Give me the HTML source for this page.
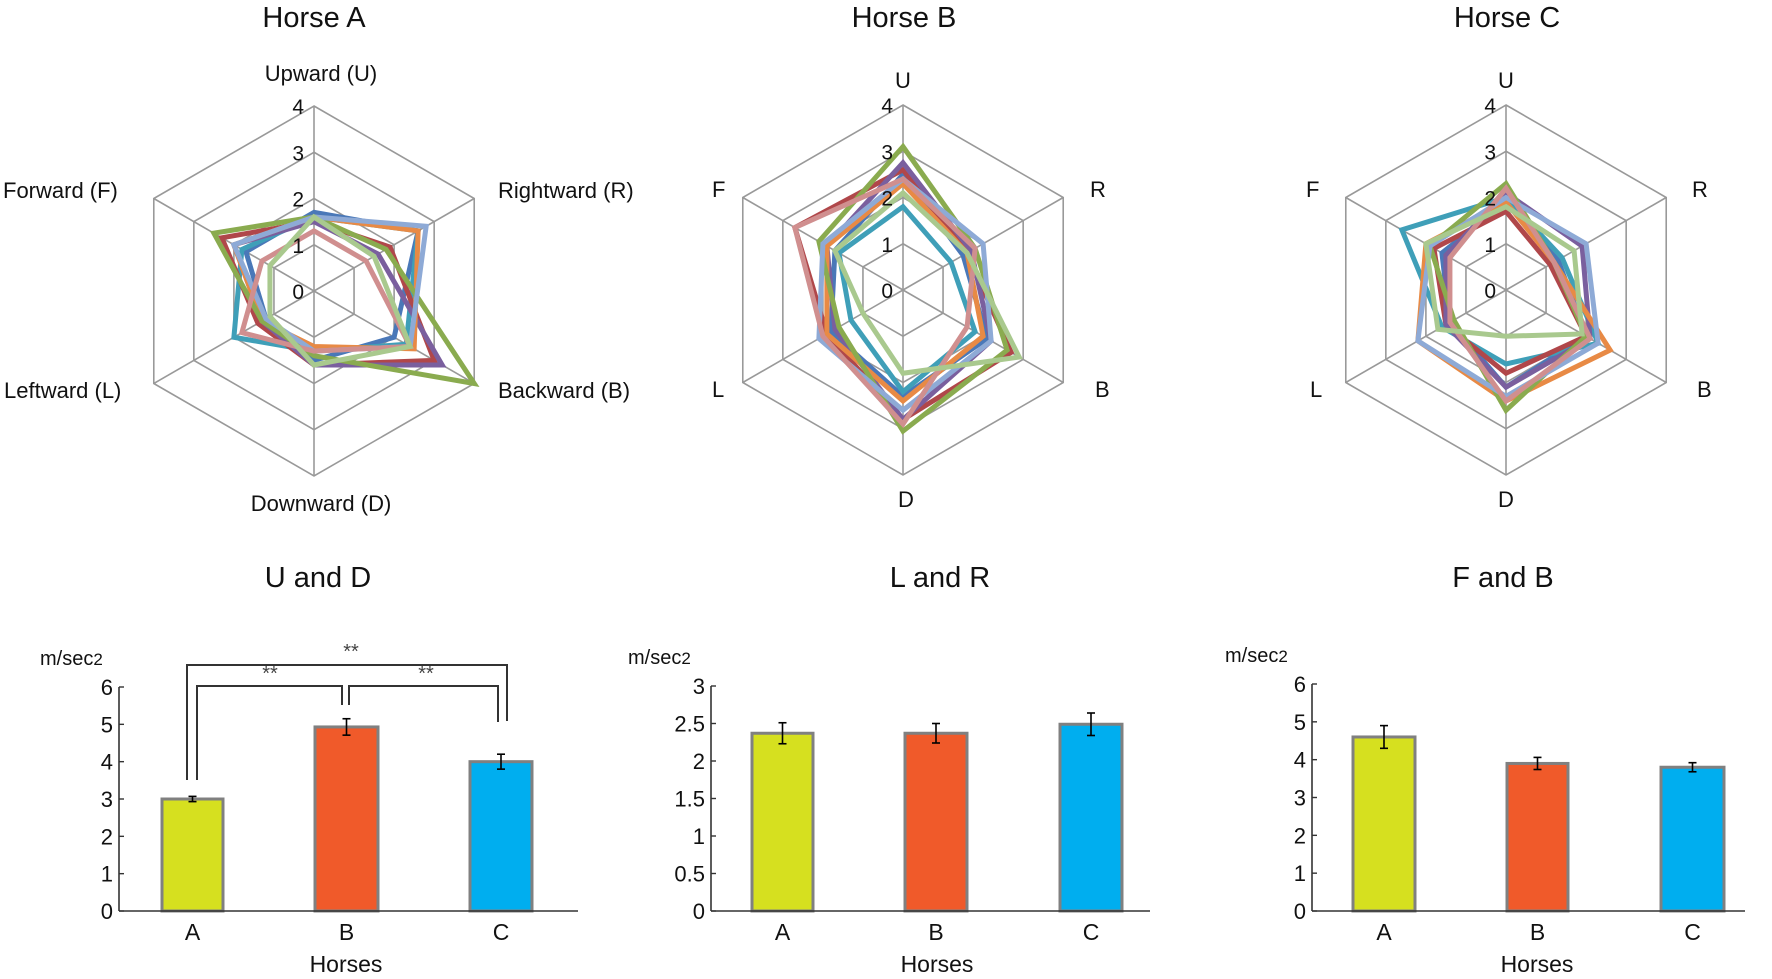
<!DOCTYPE html>
<html><head><meta charset="utf-8"><style>
html,body{margin:0;padding:0;background:#fff}
svg{display:block;font-family:"Liberation Sans",sans-serif}
</style></head><body>
<svg id="s" width="1772" height="979" viewBox="0 0 1772 979" xmlns="http://www.w3.org/2000/svg">
<g id="grids"></g>
<g id="series"></g>
<g font-size="29" fill="#111" text-anchor="middle">
<text x="314" y="27">Horse A</text>
<text x="904" y="27">Horse B</text>
<text x="1507" y="27">Horse C</text>
<text x="318" y="587">U and D</text>
<text x="940" y="587">L and R</text>
<text x="1503" y="587">F and B</text>
</g>
<g font-size="22" fill="#111">
<text x="321" y="81" text-anchor="middle">Upward (U)</text>
<text x="3" y="198">Forward (F)</text>
<text x="498" y="198">Rightward (R)</text>
<text x="4" y="398">Leftward (L)</text>
<text x="498" y="398">Backward (B)</text>
<text x="321" y="511" text-anchor="middle">Downward (D)</text>
<text x="903" y="88" text-anchor="middle">U</text>
<text x="712" y="197">F</text>
<text x="1090" y="197">R</text>
<text x="712" y="397">L</text>
<text x="1095" y="397">B</text>
<text x="906" y="507" text-anchor="middle">D</text>
<text x="1506" y="88" text-anchor="middle">U</text>
<text x="1306" y="197">F</text>
<text x="1692" y="197">R</text>
<text x="1310" y="397">L</text>
<text x="1697" y="397">B</text>
<text x="1506" y="507" text-anchor="middle">D</text>
</g>
<g id="ticks" font-size="21" fill="#111" text-anchor="end"></g>
<g id="bars"></g>
</svg>
<script>
const NS="http://www.w3.org/2000/svg";
function el(p,t,a,txt){const e=document.createElementNS(NS,t);for(const k in a)e.setAttribute(k,a[k]);if(txt!==undefined)e.textContent=txt;p.appendChild(e);return e;}
const R=185;
const centers=[[314,291],[903,290],[1506,290]];
const ang=[-90,-30,30,90,150,210].map(a=>a*Math.PI/180);
const G=document.getElementById('grids'),S=document.getElementById('series'),T=document.getElementById('ticks');
function pt(c,i,v){return [c[0]+Math.cos(ang[i])*v*R/4,c[1]+Math.sin(ang[i])*v*R/4];}
centers.forEach(c=>{
 for(let k=1;k<=4;k++){el(G,'polygon',{points:ang.map((a,i)=>pt(c,i,k).join(',')).join(' '),fill:'none',stroke:'#999','stroke-width':1.6});}
 for(let i=0;i<6;i++){const p=pt(c,i,4);el(G,'line',{x1:c[0],y1:c[1],x2:p[0],y2:p[1],stroke:'#999','stroke-width':1.6});}
 for(let k=0;k<=4;k++){el(T,'text',{x:c[0]-10,y:c[1]-k*R/4+8},String(k));}
});
const col={green:'#8aab4f',red:'#b0474a',purple:'#7a5f9e',orange:'#e88a45',lblue:'#8eaad6',teal:'#3f9fb8',blue:'#4a78b8',pink:'#d08f8f',lgreen:'#a9c98e'};
const data=[
{blue:[1.7,2.6,2.0,1.5,1.2,1.7],teal:[1.6,2.6,2.3,1.3,2.0,1.8],red:[1.5,1.9,3.0,1.6,1.4,2.3],purple:[1.5,1.6,3.2,1.6,1.3,2.0],orange:[1.6,2.6,2.5,1.2,1.3,2.0],green:[1.6,1.8,4.0,1.4,1.3,2.5],lblue:[1.6,2.8,2.4,1.3,1.2,2.0],pink:[1.3,1.3,2.4,1.3,1.8,1.3],lgreen:[1.6,1.5,2.4,1.6,1.1,1.1]},
{blue:[2.5,1.5,2.1,2.3,1.8,1.7],teal:[1.8,1.2,1.8,2.2,1.3,1.6],red:[2.6,1.6,2.7,2.8,1.9,2.7],purple:[2.75,1.7,2.2,2.8,1.7,1.9],orange:[2.3,1.6,2.0,2.4,1.9,1.9],green:[3.1,1.8,2.6,3.05,1.6,2.1],lblue:[2.4,2.0,2.2,2.6,2.1,2.0],pink:[2.4,1.8,1.6,2.9,2.0,2.7],lgreen:[2.1,1.6,2.9,1.8,1.0,1.7]},
{blue:[1.9,1.3,2.0,2.1,1.4,1.6],teal:[2.0,1.4,2.3,1.6,1.6,2.6],red:[1.7,1.1,2.0,1.8,1.5,1.8],purple:[2.1,1.9,2.1,2.1,1.5,1.5],orange:[1.9,1.2,2.6,2.4,2.2,2.0],green:[2.3,1.2,2.0,2.6,1.3,1.9],lblue:[2.0,2.0,2.3,2.3,2.2,1.9],pink:[2.2,1.2,2.1,2.4,1.4,1.4],lgreen:[1.8,1.7,1.9,1.0,1.7,2.0]}
];
data.forEach((d,ci)=>{const c=centers[ci];
 for(const k in d){el(S,'polygon',{points:d[k].map((v,i)=>pt(c,i,v).join(',')).join(' '),fill:'none',stroke:col[k],'stroke-width':5,'stroke-linejoin':'miter'});}
});
const B=document.getElementById('bars');
const fills=['#d6e01f','#f05a2a','#00aeef'];
function chart(ax,axEnd,y0,ytop,max,ticks,bars,unitX,horsesX){
 const sc=(y0-ytop)/max;
 bars.forEach((b,i)=>{const h=b[2]*sc;el(B,'rect',{x:b[0],y:y0-h,width:b[1]-b[0],height:h,fill:fills[i],stroke:'#808080','stroke-width':3});
  const cx=(b[0]+b[1])/2,t=y0-(b[2]+b[3])*sc,bt=y0-(b[2]-b[3])*sc;
  el(B,'line',{x1:cx,y1:t,x2:cx,y2:bt,stroke:'#000','stroke-width':1.6});
  el(B,'line',{x1:cx-4,y1:t,x2:cx+4,y2:t,stroke:'#000','stroke-width':1.6});
  el(B,'line',{x1:cx-4,y1:bt,x2:cx+4,y2:bt,stroke:'#000','stroke-width':1.6});
  el(B,'text',{x:cx,y:940,'font-size':23,'text-anchor':'middle',fill:'#111'},['A','B','C'][i]);
 });
 el(B,'line',{x1:ax,y1:ytop,x2:ax,y2:y0,stroke:'#333','stroke-width':1.6});
 el(B,'line',{x1:ax,y1:y0,x2:axEnd,y2:y0,stroke:'#333','stroke-width':1.6});
 ticks.forEach(v=>{const y=y0-v*sc;el(B,'line',{x1:ax,y1:y,x2:ax+5,y2:y,stroke:'#333','stroke-width':1.4});
  el(B,'text',{x:ax-6,y:y+8,'font-size':22,'text-anchor':'end',fill:'#111'},String(v));});
 const u=el(B,'text',{x:unitX,y:ytop-22,'font-size':20,fill:'#111'},'m/sec');
 el(u,'tspan',{'font-size':17},'2');
 el(B,'text',{x:horsesX,y:972,'font-size':23,'text-anchor':'middle',fill:'#111'},'Horses');
}
chart(119,578,911,687,6,[0,1,2,3,4,5,6],[[162,223,3.0,0.07],[315,378,4.93,0.22],[470,532,4.0,0.2]],40,346);
chart(711,1150,911,686,3,[0,0.5,1,1.5,2,2.5,3],[[752,813,2.37,0.14],[905,967,2.37,0.13],[1060,1122,2.49,0.15]],628,937);
chart(1312,1745,911,684,6,[0,1,2,3,4,5,6],[[1353,1415,4.6,0.3],[1507,1568,3.9,0.16],[1661,1724,3.8,0.12]],1225,1537);
const br='#333';
el(B,'polyline',{points:'187,780 187,665 507,665 507,721',fill:'none',stroke:br,'stroke-width':2});
el(B,'polyline',{points:'197,780 197,686 342,686 342,705',fill:'none',stroke:br,'stroke-width':2});
el(B,'polyline',{points:'349,705 349,686 498,686 498,722',fill:'none',stroke:br,'stroke-width':2});
[[351,658],[270,680],[426,680]].forEach(p=>el(B,'text',{x:p[0],y:p[1],'font-size':20,'text-anchor':'middle',fill:'#444'},'**'));
</script>
</body></html>
